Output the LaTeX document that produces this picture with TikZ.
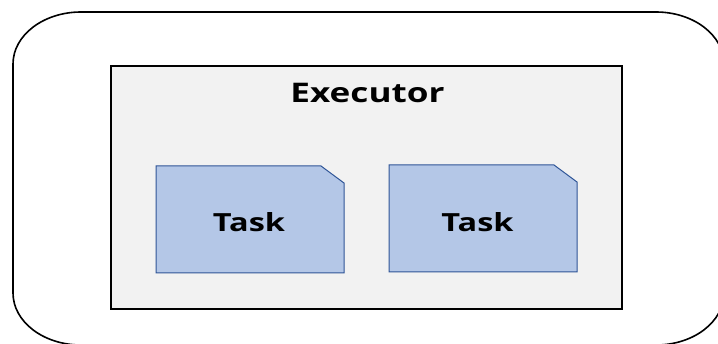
\documentclass[tikz,border=0pt]{standalone}
\usepackage{fontspec}
\setmainfont{Open Sans}
\definecolor{panelgray}{HTML}{F2F2F2}
\definecolor{taskfill}{HTML}{B4C7E7}
\definecolor{taskedge}{HTML}{2F5597}
\tikzset{
  outerframe/.style={draw=black, line width=1.6pt},
  executorbox/.style={draw=black, fill=panelgray, line width=2.4pt},
  taskbox/.style={draw=taskedge, fill=taskfill, line width=1pt, line join=miter},
  bigtitle/.style={anchor=base, inner sep=0pt, font=\bfseries\fontsize{27}{31}\selectfont},
  tasklabel/.style={anchor=base, inner sep=0pt, font=\bfseries\fontsize{25}{29}\selectfont},
}
% Task card with a clipped top-right corner: lower-left (#1,#2), upper-right (#3,#4)
\newcommand{\taskcard}[4]{%
  \draw[taskbox] (#1,#2) -- (#1,#4) -- ({#3-23},#4) -- (#3,{#4-17}) -- (#3,#2) -- cycle;}
\begin{document}
\begin{tikzpicture}[x=1pt,y=1pt]
  \useasboundingbox (0,0) rectangle (718,343);
  % outer rounded frame (runs slightly past the right and bottom edges)
  \draw[outerframe] (13,279)
    arc[start angle=180, end angle=90, x radius=68, y radius=52]
    -- (656,331)
    arc[start angle=90, end angle=0, x radius=68, y radius=52]
    -- (724,50)
    arc[start angle=0, end angle=-90, x radius=68, y radius=52]
    -- (81,-2)
    arc[start angle=-90, end angle=-180, x radius=68, y radius=52]
    -- cycle;
  % executor panel
  \draw[executorbox] (111,34) rectangle (622,277);
  \node[bigtitle] (exec) at (367.5,240) {\scalebox{1.3}[1]{Executor}};
  % two tasks
  \taskcard{156}{70}{344}{177}
  \node[tasklabel] (task1) at (249,111) {\scalebox{1.3}[1]{Task}};
  \taskcard{389}{71}{577}{178}
  \node[tasklabel] (task2) at (477.5,111) {\scalebox{1.3}[1]{Task}};
\end{tikzpicture}
\end{document}
